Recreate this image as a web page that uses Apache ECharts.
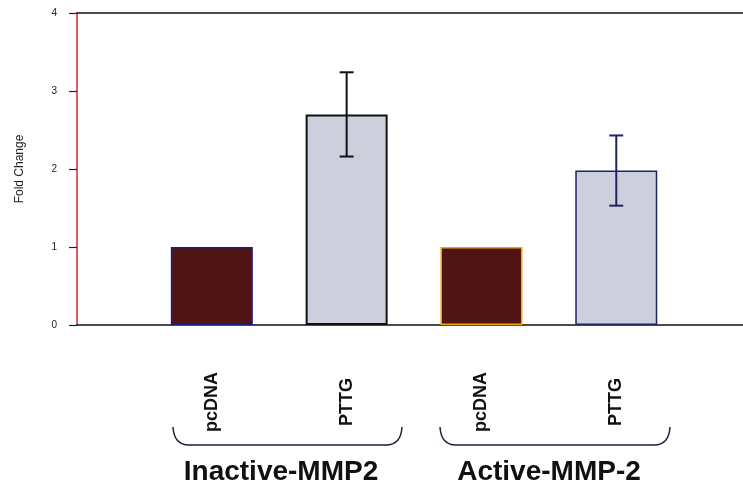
<!DOCTYPE html>
<html>
<head>
<meta charset="utf-8">
<script src="https://cdn.jsdelivr.net/npm/echarts@6/dist/echarts.min.js"></script>
<style>
html,body{margin:0;padding:0;background:#fff;}
#c{width:743px;height:492px;}
</style>
</head>
<body>
<div id="c"></div>
<script>
// ---- data ----
var categories = ['pcDNA', 'PTTG', 'pcDNA', 'PTTG'];
var positions = [1, 2, 3, 4];
var foldChange = [1.0, 2.7, 1.0, 1.98];
var errors = [0, 0.54, 0, 0.45];
var groups = ['Inactive-MMP2', 'Active-MMP-2'];
var yTicks = [0, 1, 2, 3, 4];

// ---- styles ----
var fills = ['#511414', '#cdd0dc', '#511414', '#cdd0dc'];
var borders = ['#1c1c88', '#111111', '#f0a800', '#1c2466'];
var borderWidths = [1.5, 2, 1.5, 1.5];
var errColors = ['#111', '#111', '#1c2466', '#1c2466'];

var FONT = '"Liberation Sans", Arial, sans-serif';
var chart = echarts.init(document.getElementById('c'), null, {renderer: 'canvas'});

var barData = positions.map(function (p, i) {
  return {
    value: [p, foldChange[i]],
    itemStyle: {color: fills[i], borderColor: borders[i], borderWidth: borderWidths[i]}
  };
});
var errData = [];
positions.forEach(function (p, i) {
  if (errors[i] > 0) errData.push([p, foldChange[i] - errors[i], foldChange[i] + errors[i], i]);
});

function brace(x1, x2, yTop, yBot) {
  var st = {stroke: '#2a1a3a', lineWidth: 1.5, fill: null};
  return {
    type: 'group',
    children: [
      {type: 'bezierCurve', shape: {x1: x1, y1: yTop, cpx1: x1 + 1, cpy1: yBot, x2: x1 + 16, y2: yBot}, style: st},
      {type: 'line', shape: {x1: x1 + 16, y1: yBot, x2: x2 - 16, y2: yBot}, style: st},
      {type: 'bezierCurve', shape: {x1: x2 - 16, y1: yBot, cpx1: x2 - 1, cpy1: yBot, x2: x2, y2: yTop}, style: st}
    ]
  };
}

chart.setOption({
  animation: false,
  backgroundColor: '#ffffff',
  grid: {left: 77, right: 0, top: 13, bottom: 167, containLabel: false},
  xAxis: [{
    type: 'value', min: 0, max: 4.94, interval: 1, position: 'bottom',
    axisLine: {show: true, lineStyle: {color: '#111', width: 1.5}},
    axisTick: {show: false},
    splitLine: {show: false},
    axisLabel: {
      show: true, rotate: 90, margin: 77, align: 'center', verticalAlign: 'middle',
      fontFamily: FONT, fontWeight: 'bold', fontSize: 18, color: '#111',
      showMinLabel: false, showMaxLabel: false,
      formatter: function (v) {
        var idx = positions.indexOf(v);
        return idx >= 0 ? categories[idx] : '';
      }
    }
  }, {
    type: 'value', min: 0, max: 4.94, position: 'top',
    axisLine: {show: true, lineStyle: {color: '#111', width: 1.5}},
    axisTick: {show: false}, axisLabel: {show: false}, splitLine: {show: false}
  }],
  yAxis: {
    type: 'value', min: 0, max: 4, interval: 1,
    name: 'Fold Change', nameLocation: 'middle', nameRotate: 90, nameGap: 57,
    nameTextStyle: {fontFamily: FONT, fontSize: 12, color: '#222', verticalAlign: 'middle'},
    axisLine: {show: true, lineStyle: {color: '#d42a2a', width: 1.5}},
    axisTick: {show: true, length: 8, lineStyle: {color: '#222', width: 1.2}},
    splitLine: {show: false},
    axisLabel: {
      margin: 20, fontFamily: FONT, fontSize: 10, color: '#222',
      formatter: function (v) { return yTicks.indexOf(v) >= 0 ? String(v) : ''; }
    }
  },
  series: [{
    type: 'bar', xAxisIndex: 0, barWidth: 82, data: barData, z: 2
  }, {
    type: 'custom', xAxisIndex: 0, z: 5,
    renderItem: function (params, api) {
      var x = api.value(0);
      var lo = api.coord([x, api.value(1)]);
      var hi = api.coord([x, api.value(2)]);
      var col = errColors[api.value(3)];
      var hw = 7;
      var st = {stroke: col, lineWidth: 2};
      return {
        type: 'group',
        children: [
          {type: 'line', shape: {x1: hi[0], y1: hi[1], x2: lo[0], y2: lo[1]}, style: st},
          {type: 'line', shape: {x1: hi[0] - hw, y1: hi[1], x2: hi[0] + hw, y2: hi[1]}, style: st},
          {type: 'line', shape: {x1: lo[0] - hw, y1: lo[1], x2: lo[0] + hw, y2: lo[1]}, style: st}
        ]
      };
    },
    data: errData
  }],
  graphic: [
    brace(173, 402, 427, 445),
    brace(440, 670, 427, 445),
    {type: 'text', x: 281, y: 472, style: {text: groups[0], font: 'bold 28px ' + FONT, fill: '#111', textAlign: 'center', textVerticalAlign: 'middle'}},
    {type: 'text', x: 549, y: 472, style: {text: groups[1], font: 'bold 28px ' + FONT, fill: '#111', textAlign: 'center', textVerticalAlign: 'middle'}}
  ]
});
</script>
</body>
</html>
